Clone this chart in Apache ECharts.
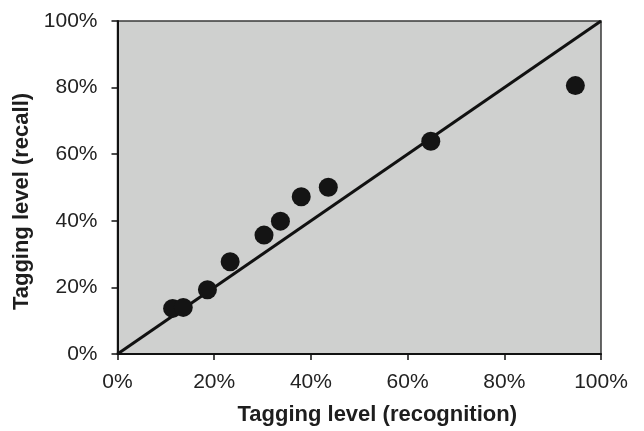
<!DOCTYPE html>
<html>
<head>
<meta charset="utf-8">
<script src="https://cdn.jsdelivr.net/npm/echarts@6/dist/echarts.min.js"></script>
<style>
    html, body { margin: 0; padding: 0; background: #ffffff; }
    #chart_tagging { width: 644px; height: 431px; }
</style>
</head>
<body>
<div id="chart_tagging"></div>
<script>
// 标注水平：识别 vs 召回 (%)
var recognition = [11.4, 13.6, 18.6, 23.3, 30.3, 33.7, 38.0, 43.6, 64.8, 94.7];
var recall = [13.7, 14.0, 19.3, 27.7, 35.7, 39.9, 47.2, 50.1, 63.9, 80.6];
var diagX = [0, 100];
var diagY = [0, 100];
var tickValues = [0, 20, 40, 60, 80, 100];

var chart_tagging = null;

function buildPairs(xs, ys) {
    var arr = [];
    for (var i = 0; i < xs.length; i++) {
        arr.push([xs[i], ys[i]]);
    }
    return arr;
}

function axisCommon(name, nameGap, labelMargin, namePadding) {
    return {
        type: 'value',
        min: tickValues[0],
        max: tickValues[tickValues.length - 1],
        interval: tickValues[1] - tickValues[0],
        name: name,
        nameLocation: 'middle',
        nameGap: nameGap,
        nameTextStyle: {
            fontFamily: 'Liberation Sans',
            fontSize: 22,
            fontWeight: 'bold',
            color: '#1e1e1e',
            padding: namePadding
        },
        axisLine: {
            show: true,
            lineStyle: { color: '#111111', width: 2 }
        },
        axisTick: {
            show: true,
            inside: false,
            length: 6,
            lineStyle: { color: '#111111', width: 1.5 }
        },
        axisLabel: {
            margin: labelMargin,
            fontFamily: 'Liberation Sans',
            fontSize: 21,
            color: '#222222',
            formatter: '{value}%'
        },
        splitLine: { show: false }
    };
}

function initChart() {
    chart_tagging = echarts.init(document.getElementById('chart_tagging'));

    var option = {
        animation: false,
        grid: {
            left: 117.5,
            right: 43,
            top: 21,
            bottom: 76,
            show: true,
            backgroundColor: '#cfd0cf',
            borderColor: '#3a3a3a',
            borderWidth: 1.5
        },
        xAxis: axisCommon('Tagging level (recognition)', 50, 18, [0, 0, 0, 36]),
        yAxis: axisCommon('Tagging level (recall)', 76, 20, [0, 28, 0, 0]),
        series: [
            {
                name: 'diag',
                type: 'line',
                data: buildPairs(diagX, diagY),
                symbol: 'none',
                lineStyle: { color: '#111111', width: 3 },
                z: 2
            },
            {
                name: 'tagging',
                type: 'scatter',
                data: buildPairs(recognition, recall),
                symbolSize: 19,
                itemStyle: { color: '#141414', opacity: 1 },
                z: 3
            }
        ]
    };

    chart_tagging.setOption(option);
}

initChart();
</script>
</body>
</html>
